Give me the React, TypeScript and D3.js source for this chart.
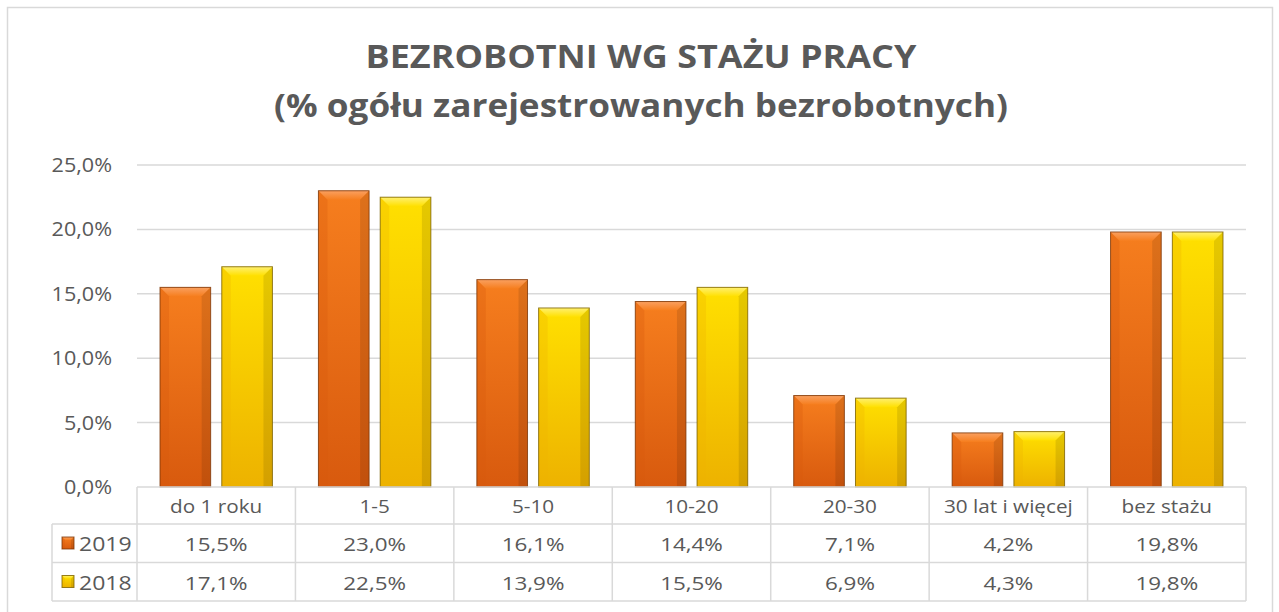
import React from "react";
import * as d3 from "d3";

const categories = ["do 1 roku", "1-5", "5-10", "10-20", "20-30", "30 lat i więcej", "bez stażu"];
const seriesNames = ["2019", "2018"];
const values2019 = [15.5, 23.0, 16.1, 14.4, 7.1, 4.2, 19.8];
const values2018 = [17.1, 22.5, 13.9, 15.5, 6.9, 4.3, 19.8];
const yTicks = [0, 5, 10, 15, 20, 25];
const titleLines = ["BEZROBOTNI WG STAŻU PRACY", "(% ogółu zarejestrowanych bezrobotnych)"];

const W = 1279;
const H = 612;
const FONT = "'Open Sans', Lato, sans-serif";
const TXT = "#595959";

const palettes = [
  { id: "o", mid: "#F67E1E", edge: "#D85A0E", top: "#FAA060", stroke: "#7A3406" },
  { id: "y", mid: "#FFE000", edge: "#EDB200", top: "#FFF070", stroke: "#7A6000" },
];

const fmt = (v: number) => v.toFixed(1).replace(".", ",") + "%";

function ST({ x, y, size, sx = 1.1, anchor = "middle", weight = 400, children }: any) {
  return (
    <text
      transform={`translate(${x},${y}) scale(${sx},1)`}
      textAnchor={anchor}
      fontFamily={FONT}
      fontSize={size}
      fontWeight={weight}
      fill={TXT}
    >
      {children}
    </text>
  );
}

function Bevel({ x, y, w, h, p }: { x: number; y: number; w: number; h: number; p: typeof palettes[0] }) {
  const b = Math.min(9, h / 2, w / 4);
  return (
    <g>
      <rect x={x} y={y} width={w} height={h} fill={`url(#g${p.id})`} />
      <path d={`M${x},${y}L${x + w},${y}L${x + w - b},${y + b}L${x + b},${y + b}Z`} fill={`url(#t${p.id})`} />
      <path d={`M${x},${y}L${x + b},${y + b}L${x + b},${y + h}L${x},${y + h}Z`} fill={p.edge} opacity={0.3} />
      <path d={`M${x + w},${y}L${x + w - b},${y + b}L${x + w - b},${y + h}L${x + w},${y + h}Z`} fill="#000" opacity={0.1} />
      <rect x={x} y={y} width={w} height={h} fill="none" stroke={p.stroke} strokeWidth={1} opacity={0.8} />
    </g>
  );
}

export default function App() {
  const left = 137;
  const right = 1246;
  const y0 = 487;
  const yTop = 165;
  const y = d3.scaleLinear().domain([0, 25]).range([y0, yTop]);
  const x = d3.scaleBand<string>().domain(categories).range([left, right]).paddingInner(0).paddingOuter(0);
  const inner = d3.scaleBand<string>().domain(seriesNames).range([23, x.bandwidth() - 23]).paddingInner(0.18);
  const series = [values2019, values2018];

  const rowH = 38.5;
  const headTop = y0;
  const headBot = 524;
  const tableLeft = 52;
  const rows = [headBot, headBot + rowH, headBot + 2 * rowH];

  return (
    <svg width={W} height={H} style={{ position: "absolute", left: 0, top: 0 }}>
      <defs>
        {palettes.map((p) => (
          <React.Fragment key={p.id}>
            <linearGradient id={`g${p.id}`} x1="0" x2="0" y1="0" y2="1">
              <stop offset="0" stopColor={p.mid} />
              <stop offset="1" stopColor={p.edge} />
            </linearGradient>
            <linearGradient id={`t${p.id}`} x1="0" x2="0" y1="0" y2="1">
              <stop offset="0" stopColor={p.top} />
              <stop offset="1" stopColor={p.mid} />
            </linearGradient>
          </React.Fragment>
        ))}
      </defs>
      <rect x={0} y={0} width={W} height={H} fill="#fff" />
      <rect x={7.5} y={7.5} width={1265} height={610} fill="#fff" stroke="#D9D9D9" strokeWidth={1.5} />

      {titleLines.map((t, i) => (
        <ST key={i} x={641} y={[68, 117][i]} size={33} sx={[1.09, 1.065][i]} weight={700}>
          {t}
        </ST>
      ))}

      {yTicks.map((t) => (
        <g key={t}>
          {t > 0 && <line x1={left} x2={right} y1={y(t)} y2={y(t)} stroke="#D9D9D9" strokeWidth={1.5} />}
          <ST x={112} y={y(t) + 7} size={20} sx={1.08} anchor="end">
            {fmt(t)}
          </ST>
        </g>
      ))}

      {categories.map((c, i) => (
        <g key={c}>
          {series.map((vals, s) => {
            const bx = (x(c) as number) + (inner(seriesNames[s]) as number);
            const by = y(vals[i]);
            return <Bevel key={s} x={bx} y={by} w={inner.bandwidth()} h={y0 - by} p={palettes[s]} />;
          })}
        </g>
      ))}

      {/* table */}
      <g stroke="#D9D9D9" strokeWidth={1.5} fill="none">
        <line x1={left} x2={right} y1={headTop} y2={headTop} />
        {rows.map((r) => (
          <line key={r} x1={tableLeft} x2={right} y1={r} y2={r} />
        ))}
        <line x1={tableLeft} x2={tableLeft} y1={headBot} y2={rows[2]} />
        {categories.map((c) => (
          <line key={c} x1={x(c)} x2={x(c)} y1={headTop} y2={rows[2]} />
        ))}
        <line x1={right} x2={right} y1={headTop} y2={rows[2]} />
      </g>
      {categories.map((c) => (
        <ST key={c} x={(x(c) as number) + x.bandwidth() / 2} y={headBot - 11} size={18.5} sx={1.12}>
          {c}
        </ST>
      ))}
      {series.map((vals, s) => (
        <g key={s}>
          <Bevel x={62} y={rows[s] + 13} w={12} h={12} p={palettes[s]} />
          <ST x={79} y={rows[s] + 27} size={19.5} sx={1.18} anchor="start">
            {seriesNames[s]}
          </ST>
          {vals.map((v, i) => (
            <ST key={i} x={(x(categories[i]) as number) + x.bandwidth() / 2} y={rows[s] + 27} size={19} sx={1.18}>
              {fmt(v)}
            </ST>
          ))}
        </g>
      ))}
    </svg>
  );
}
